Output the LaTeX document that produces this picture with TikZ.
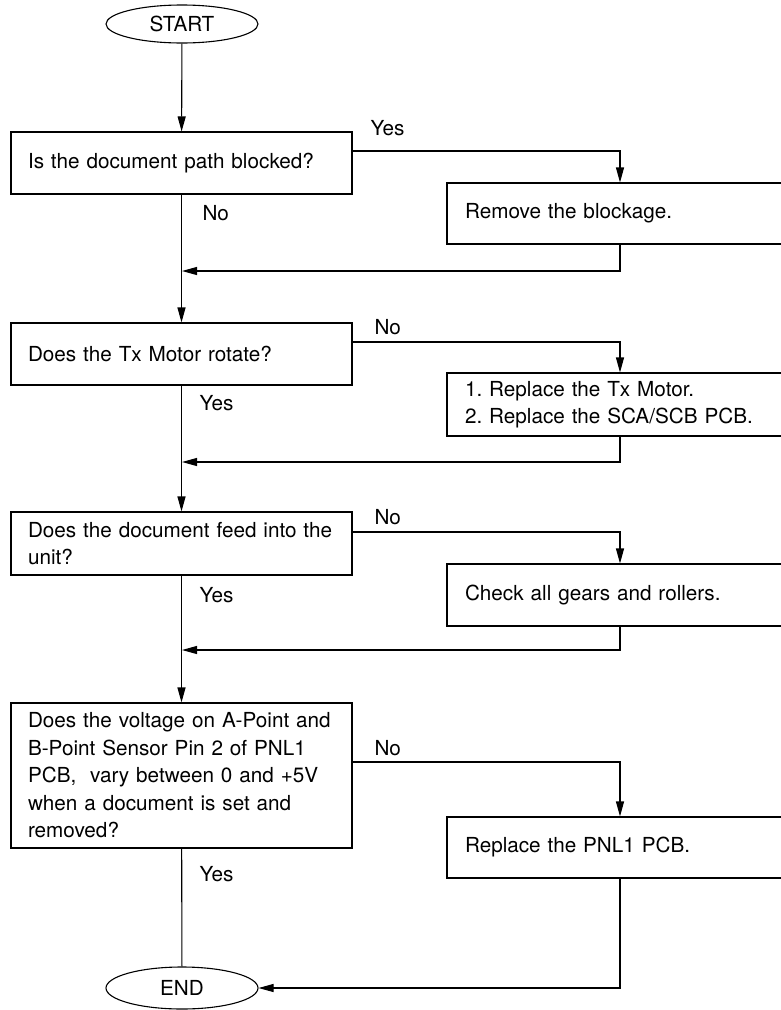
\documentclass[tikz,border=0pt]{standalone}
\usepackage{fontspec}
\setmainfont{TeX Gyre Heros}
\usepackage{tikz}
\usetikzlibrary{arrows.meta, shapes.geometric}
\frenchspacing

\tikzset{
  qbox/.style={draw, rectangle, line width=1.1pt, inner xsep=17pt, text width=307pt, minimum height=#1, align=left},
  abox/.style={draw, rectangle, line width=1.1pt, inner xsep=18pt, text width=310pt, minimum height=#1, align=left},
  term/.style={draw, ellipse, line width=1.1pt, inner sep=0pt, minimum width=152pt, minimum height=#1},
  lbl/.style={anchor=west, inner sep=0pt}
}

\begin{document}
\begin{tikzpicture}[x=1pt, y=-1pt, >={Stealth[length=15pt, width=8pt, inset=0pt]},
    line width=1.1pt, font=\fontsize{20.7}{27.5}\selectfont]
      \useasboundingbox (0,0) rectangle (780,1010);

      \node[term=38pt] (start) at (182,24) {START};
      \node[term=42pt] (stop) at (182,988) {END};

      \node[qbox=62pt] (blocked) at (181.5,163) {Is the document path blocked?};
      \node[abox=61pt] (fix1) at (620,213.5) {Remove the blockage.};
      \node[qbox=62pt] (motor) at (181.5,354) {Does the Tx Motor rotate?};
      \node[abox=63pt] (fix2) at (620,404.5) {1. Replace the Tx Motor.\\2. Replace the SCA/SCB PCB.};
      \node[qbox=63pt] (feed) at (181.5,543.5) {Does the document feed into the\\unit?};
      \node[abox=62pt] (fix3) at (620,595) {Check all gears and rollers.};
      \node[qbox=145pt] (volt) at (181.5,775.5) {Does the voltage on A-Point and\\B-Point Sensor Pin 2 of PNL1\\PCB,~ vary between 0 and +5V\\when a document is set and\\removed?};
      \node[abox=61pt] (fix4) at (620,847.5) {Replace the PNL1 PCB.};

      \coordinate (m1) at (182,271);
      \coordinate (m2) at (182,462);
      \coordinate (m3) at (182,650);

      \node[lbl] (y1) at (370,128) {Yes};
      \node[lbl] (n1) at (202,213) {No};
      \node[lbl] (n2) at (374,327) {No};
      \node[lbl] (y2) at (199,403) {Yes};
      \node[lbl] (n3) at (374,517) {No};
      \node[lbl] (y3) at (199,595) {Yes};
      \node[lbl] (n4) at (374,748) {No};
      \node[lbl] (y4) at (199,874) {Yes};

      \draw[->] (start) -- (blocked);
      \draw[->] (blocked) -- (motor);
      \draw[->] (motor) -- (feed);
      \draw[->] (feed) -- (volt);
      \draw (volt) -- (stop);

      \draw[->] ([yshift=12pt]blocked.east) -| (fix1.north);
      \draw[->] ([yshift=12pt]motor.east) -| (fix2.north);
      \draw[->] ([yshift=11.5pt]feed.east) -| (fix3.north);
      \draw[->] ([yshift=13.5pt]volt.east) -| (fix4.north);

      \draw[->] (fix1.south) |- (m1);
      \draw[->] (fix2.south) |- (m2);
      \draw[->] (fix3.south) |- (m3);
      \draw[->] (fix4.south) |- (stop.east);
    \end{tikzpicture}
\end{document}
